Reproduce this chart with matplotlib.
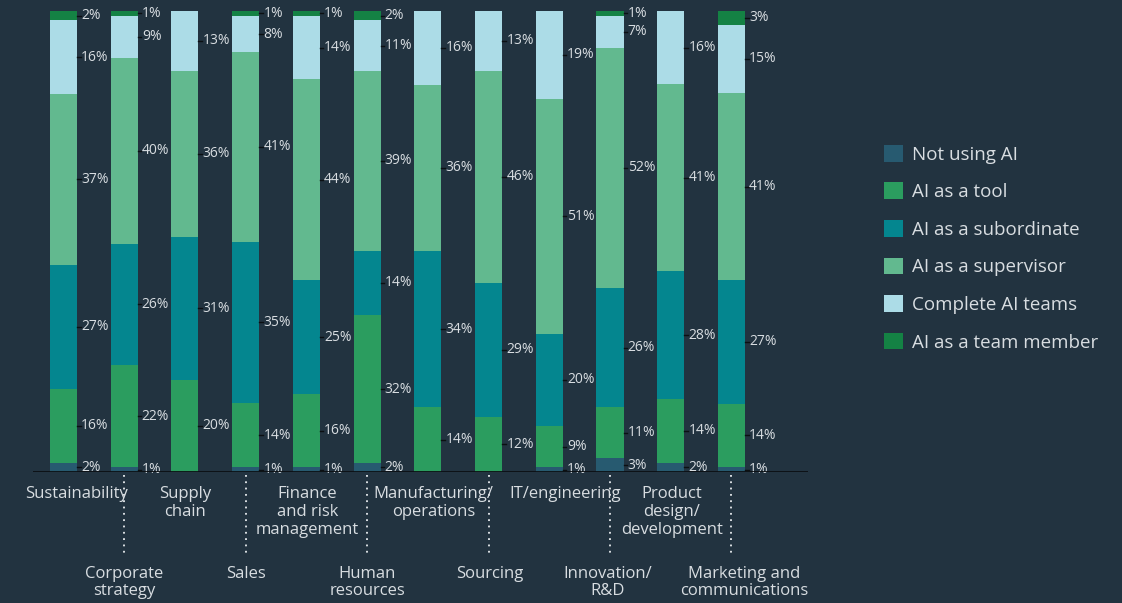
import matplotlib
matplotlib.use("Agg")
import matplotlib.pyplot as plt
import matplotlib.transforms as mtransforms
from matplotlib.patches import Patch
import numpy as np

BG = "#223340"
INK = "#d8dde1"
plt.rcParams["font.family"] = ["Open Sans", "DejaVu Sans"]

categories = [
    "Sustainability", "Corporate\nstrategy", "Supply\nchain", "Sales",
    "Finance\nand risk\nmanagement", "Human\nresources", "Manufacturing/\noperations",
    "Sourcing", "IT/engineering", "Innovation/\nR&D", "Product\ndesign/\ndevelopment",
    "Marketing and\ncommunications",
]
# small horizontal nudges for the long category names
label_nudge = [0.22, 0, 0, 0, 0.02, 0, 0.09, 0.02, 0.27, -0.04, 0.02, 0.21]
series_names = [
    "Not using AI", "AI as a tool", "AI as a subordinate",
    "AI as a supervisor", "Complete AI teams", "AI as a team member",
]
series_colors = ["#275a70", "#2b9d5f", "#04868f", "#62b98f", "#acdce7", "#148244"]

not_using = [2, 1, 0, 1, 1, 2, 0, 0, 1, 3, 2, 1]
as_tool = [16, 22, 20, 14, 16, 32, 14, 12, 9, 11, 14, 14]
as_subordinate = [27, 26, 31, 35, 25, 14, 34, 29, 20, 26, 28, 27]
as_supervisor = [37, 40, 36, 41, 44, 39, 36, 46, 51, 52, 41, 41]
complete_teams = [16, 9, 13, 8, 14, 11, 16, 13, 19, 7, 16, 15]
team_member = [2, 1, 0, 1, 1, 2, 0, 0, 0, 1, 0, 3]

values = np.array([not_using, as_tool, as_subordinate,
                   as_supervisor, complete_teams, team_member], dtype=float)
# each bar is drawn as a share of its own total so all columns reach the top
shares = values / values.sum(axis=0)

fig = plt.figure(figsize=(11.22, 6.03), dpi=100, facecolor=BG)
ax = fig.add_axes([33 / 1122, 131 / 603, 775 / 1122, 461 / 603])
ax.set_facecolor(BG)

x = np.arange(len(categories))
bar_w = 0.445
bottom = np.zeros(len(categories))
for name, color, share, raw in zip(series_names, series_colors, shares, values):
    ax.bar(x, share, bar_w, bottom=bottom, color=color, linewidth=0, zorder=2)
    for xi, b, s, v in zip(x, bottom, share, raw):
        if v <= 0:
            continue
        ymid = b + s / 2
        ax.plot([xi + bar_w / 2, xi + bar_w / 2 + 0.06], [ymid, ymid],
                color="#0b0f12", linewidth=1.0, zorder=3, clip_on=False)
        ax.text(xi + bar_w / 2 + 0.07, ymid, f"{int(v)}%", va="center", ha="left",
                fontsize=10, color=INK, zorder=3)
    bottom += share

ax.set_xlim(-0.5, 12.26)
ax.set_ylim(0, 1)
ax.axhline(0, color="#0b0f12", linewidth=2, zorder=4)
for spine in ax.spines.values():
    spine.set_visible(False)
ax.set_xticks([])
ax.set_yticks([])

# category names alternate between two rows; the lower row gets a dotted leader
trans = mtransforms.blended_transform_factory(ax.transData, ax.transAxes)
for xi, label, dx in zip(x, categories, label_nudge):
    if xi % 2 == 0:
        ax.text(xi + dx, -0.031, label, transform=trans, ha="center", va="top",
                fontsize=12, color=INK, linespacing=1.15)
    else:
        ax.plot([xi, xi], [-0.007, -0.184], transform=trans, color="#e8ecef",
                linestyle=(0, (1, 2.5)), linewidth=1.3, clip_on=False)
        ax.text(xi + dx, -0.203, label, transform=trans, ha="center", va="top",
                fontsize=12, color=INK, linespacing=1.15)

handles = [Patch(facecolor=c, edgecolor="none") for c in series_colors]
leg = fig.legend(handles, series_names, loc="upper left",
                 bbox_to_anchor=(867 / 1122, 475 / 603), frameon=False,
                 fontsize=13.5, handlelength=1.0, handleheight=1.0,
                 handletextpad=0.5, labelspacing=1.0)
for t in leg.get_texts():
    t.set_color(INK)

fig.savefig("out.png", dpi=100, facecolor=BG)
